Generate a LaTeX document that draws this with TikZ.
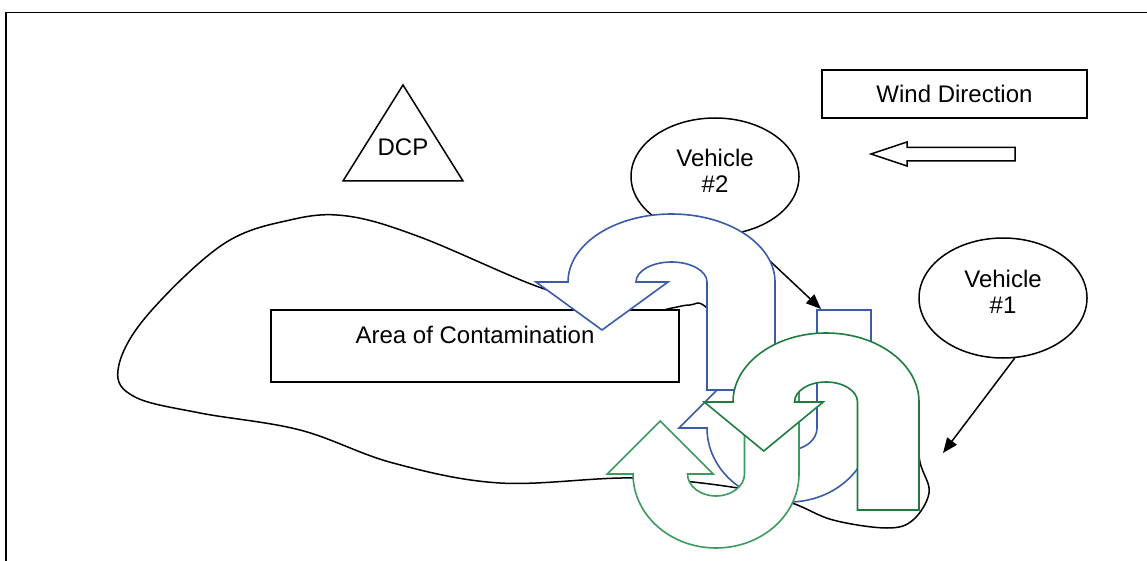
\documentclass[tikz,border=0pt]{standalone}
\usepackage{fontspec}
\setmainfont{Liberation Sans}
\usepackage{xcolor}
\usetikzlibrary{shapes.geometric,arrows.meta}

\definecolor{turnblue}{HTML}{3A5BA8}
\definecolor{turngreen}{HTML}{1E7D3E}
\definecolor{turnlight}{HTML}{3D9A5E}

% U-turn outline: Rx, Ry, rx, ry, head half width, head height, tail
\newcommand{\uturnpath}[7]{(#1,#7) -- (#1,0) arc[start angle=0,end angle=-180,x radius=#1,y radius=#2]
  -- ({-(#1+#3)/2-#5},0) -- ({-(#1+#3)/2},#6) -- ({-(#1+#3)/2+#5},0)
  -- (-#3,0) arc[start angle=180,end angle=360,x radius=#3,y radius=#4] -- (#3,#7) -- cycle}

\begin{document}
\begin{tikzpicture}[x=1pt,y=-1pt,line width=1.5pt,
    every node/.style={font=\fontsize{24}{26}\selectfont},
    box/.style={draw,fill=white,inner sep=0pt},
    vehicle/.style={draw,fill=white,ellipse,minimum width=168pt,inner sep=0pt,align=center,text depth=12pt},
    pointer/.style={-{Triangle[length=15pt,width=12pt]}},
    turn/.style={fill=white,line width=1.6pt}]
    \useasboundingbox (0,0) rectangle (1147,561);

    % Frame
    \draw[line width=1.3pt] (6,561) -- (6,12.5) -- (1147,12.5);

    % Contaminated ground
    \draw plot[smooth cycle, tension=0.6] coordinates {(290,220) (347,216) (420,237) (536,286) (600,303) (640,314) (672,308) (690,305) (707,308) (750,360) (830,368) (905,420) (921,466) (929,493) (913,520) (887,528) (833,520) (792,503) (738,488) (633,478) (500,483) (393,463) (300,430) (200,413) (135,397) (118,370) (145,318) (222,245)};

    % Labels
    \node[box, minimum width=408pt, text height=33pt, text depth=39pt] (area) at (475,346) {Area of Contamination};
    \node[box, minimum width=265pt, minimum height=48pt] (wind) at (954.5,94) {Wind Direction};

    % Decon point
    \draw (403,85) -- (463,181) -- (343,181) -- cycle;
    \node (dcp) at (403,147) {DCP};

    % Wind arrow
    \draw (871,154) -- (907,142) -- (907,147.5) -- (1015,147.5) -- (1015,161) -- (907,161) -- (907,166) -- cycle;

    % Vehicles
    \node[vehicle, minimum height=117pt] (veh2) at (715,176.5) {Vehicle\\\#2};
    \node[vehicle, minimum height=120pt] (veh1) at (1003,298) {Vehicle\\\#1};
    \coordinate (tip2) at (821,309);
    \coordinate (tip1) at (943,453);
    \draw[pointer] (veh2.-66) -- (tip2);
    \draw[pointer] (veh1.-79) -- (tip1);

    % U-turn arrows
    \begin{scope}[shift={(789,428)},yscale=-1]
        \draw[turn, draw=turnblue] \uturnpath{82}{74}{28}{22}{55}{55}{118};
    \end{scope}
    \begin{scope}[shift={(671.5,282)}]
        \draw[turn, draw=turnblue] \uturnpath{103.5}{68}{35.5}{20}{66}{48}{108};
    \end{scope}
    \begin{scope}[shift={(716,474)},yscale=-1]
        \draw[turn, draw=turnlight] \uturnpath{83}{74}{28.5}{22}{53}{53}{94};
    \end{scope}
    \begin{scope}[shift={(826,402)}]
        \draw[turn, draw=turngreen] \uturnpath{93}{69}{31.5}{20}{59.5}{49}{108};
    \end{scope}
\end{tikzpicture}
\end{document}
